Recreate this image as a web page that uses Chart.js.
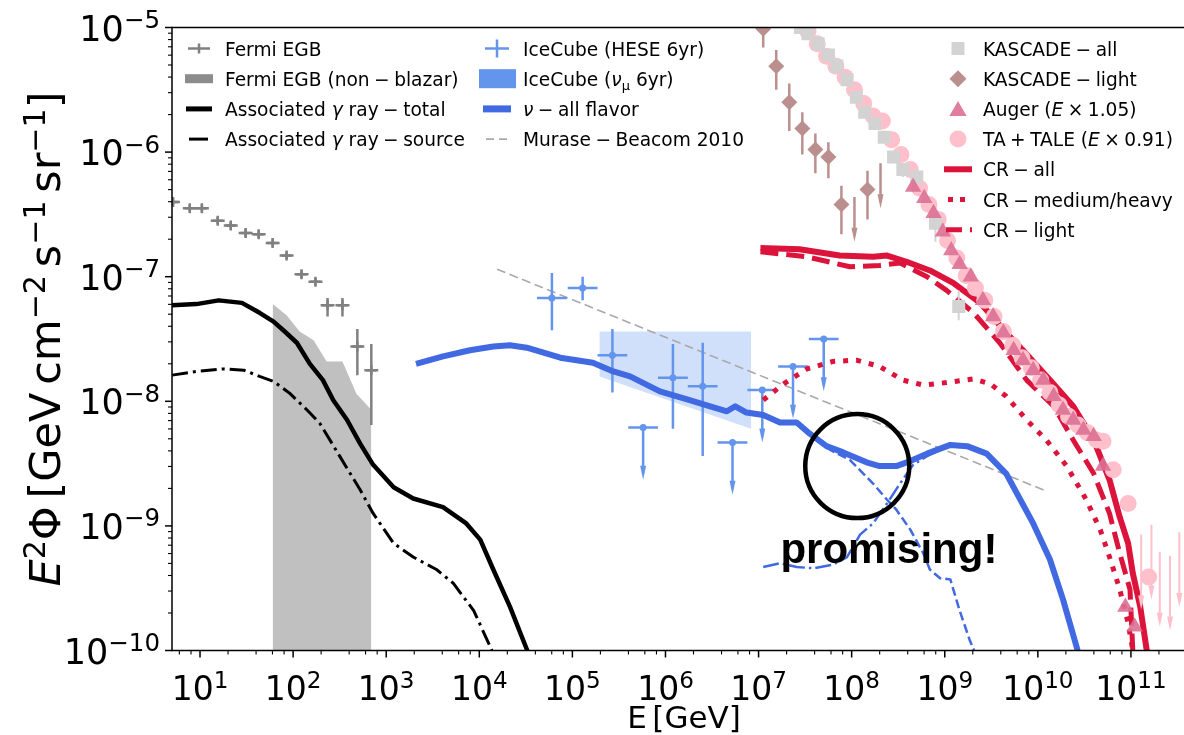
<!DOCTYPE html>
<html>
<head>
<meta charset="utf-8">
<script src="https://cdn.jsdelivr.net/npm/chart.js@4.4.1/dist/chart.umd.min.js"></script>
<style>
  html, body { margin: 0; padding: 0; background: #fff; overflow: hidden; }
  #wrap { position: relative; width: 1210px; height: 735px; }
</style>
</head>
<body>
<div id="wrap"><canvas id="fluxChart"></canvas></div>
<script>
// All values: log10(E / GeV) and log10(E^2 Phi / GeV cm^-2 s^-1 sr^-1)

// Fermi EGB points
const fermiLogE = [0.71, 0.89, 1.02, 1.19, 1.33, 1.49, 1.63, 1.78, 1.93, 2.09, 2.24, 2.37, 2.53, 2.69, 2.84];
const fermiLogF = [-6.40, -6.45, -6.45, -6.55, -6.59, -6.65, -6.66, -6.73, -6.83, -6.98, -7.04, -7.23, -7.23, -7.56, -7.75];
const fermiErrHi = [0.03, 0.03, 0.03, 0.03, 0.03, 0.03, 0.03, 0.03, 0.03, 0.03, 0.03, 0.06, 0.06, 0.14, 0.21];
const fermiErrLo = [0.03, 0.03, 0.03, 0.03, 0.03, 0.03, 0.03, 0.03, 0.03, 0.03, 0.03, 0.09, 0.09, 0.23, 0.44];

// Fermi EGB non-blazar band (upper edge)
const fermiNbLogE = [1.78, 1.93, 2.07, 2.22, 2.36, 2.53, 2.68, 2.83, 2.84];
const fermiNbLogF = [-7.22, -7.31, -7.44, -7.51, -7.68, -7.68, -7.94, -8.06, -8.06];

// associated gamma rays
const gamTotLogE = [0.70, 0.96, 1.20, 1.45, 1.64, 1.79, 1.91, 2.04, 2.18, 2.32, 2.43, 2.58, 2.72, 2.86, 3.08, 3.29, 3.61, 3.86, 4.01, 4.15, 4.33, 4.51, 4.60];
const gamTotLogF = [-7.23, -7.22, -7.19, -7.21, -7.29, -7.36, -7.44, -7.53, -7.70, -7.83, -7.99, -8.15, -8.34, -8.51, -8.69, -8.78, -8.85, -8.98, -9.11, -9.35, -9.65, -9.99, -10.20];
const gamSrcLogE = [0.70, 0.96, 1.25, 1.47, 1.64, 1.79, 1.97, 2.15, 2.29, 2.50, 2.72, 2.86, 3.08, 3.29, 3.54, 3.72, 3.94, 4.13, 4.20];
const gamSrcLogF = [-7.79, -7.76, -7.74, -7.75, -7.80, -7.84, -7.94, -8.07, -8.18, -8.44, -8.71, -8.90, -9.14, -9.25, -9.35, -9.46, -9.68, -9.99, -10.15];

// IceCube HESE 6yr
const heseLogE = [4.78, 5.11, 5.43, 6.08, 6.40];
const heseLogF = [-7.17, -7.09, -7.63, -7.81, -7.88];
const heseErrHi = [0.20, 0.09, 0.21, 0.27, 0.35];
const heseErrLo = [0.26, 0.10, 0.30, 0.41, 0.56];
const heseUlLogE = [5.76, 6.72, 7.04, 7.37, 7.70];
const heseUlLogF = [-8.21, -8.33, -7.91, -7.72, -7.50];

// IceCube numu 6yr band
const numuLogE = [5.29, 6.92];
const numuHiLogF = [-7.44, -7.44];
const numuLoLogF = [-7.80, -8.22];

// Murase & Beacom 2010
const mbLogE = [4.19, 8.30, 10.09];
const mbLogF = [-6.94, -8.18, -8.72];

// neutrinos
const nuAllLogE = [3.32, 3.61, 3.90, 4.15, 4.33, 4.51, 4.87, 5.22, 5.44, 5.62, 5.94, 6.26, 6.48, 6.66, 6.75, 6.87, 7.05, 7.23, 7.41, 7.55, 7.73, 7.91, 8.16, 8.30, 8.48, 8.63, 8.81, 9.06, 9.24, 9.45, 9.66, 9.95, 10.13, 10.27, 10.42, 10.50];
const nuAllLogF = [-7.70, -7.64, -7.59, -7.56, -7.55, -7.57, -7.65, -7.69, -7.76, -7.80, -7.92, -7.99, -8.04, -8.08, -8.04, -8.09, -8.11, -8.17, -8.17, -8.26, -8.36, -8.41, -8.49, -8.52, -8.52, -8.48, -8.42, -8.35, -8.36, -8.42, -8.58, -8.98, -9.27, -9.59, -9.98, -10.20];
const nuDashLogE = [7.41, 7.59, 7.77, 7.98, 8.23, 8.38, 8.48, 8.63, 8.77, 8.84, 8.95, 9.06, 9.16, 9.27, 9.31, 9.35];
const nuDashLogF = [-8.17, -8.27, -8.39, -8.47, -8.66, -8.79, -8.87, -9.03, -9.22, -9.35, -9.42, -9.43, -9.68, -9.92, -9.99, -10.15];
const nuDdLogE = [7.05, 7.23, 7.41, 7.59, 7.80, 7.95, 8.09, 8.23, 8.38, 8.52, 8.66, 8.81, 8.95, 9.06];
const nuDdLogF = [-9.33, -9.30, -9.33, -9.34, -9.31, -9.25, -9.07, -8.98, -8.82, -8.66, -8.51, -8.44, -8.39, -8.35];

// cosmic-ray models
const crAllLogE = [7.02, 7.44, 7.87, 8.23, 8.38, 8.59, 8.84, 9.09, 9.38, 9.66, 9.84, 10.13, 10.38, 10.60, 10.77, 10.88, 10.97, 11.02, 11.10, 11.17, 11.20];
const crAllLogF = [-6.77, -6.78, -6.83, -6.84, -6.83, -6.88, -6.95, -7.05, -7.21, -7.45, -7.59, -7.83, -8.04, -8.31, -8.63, -8.93, -9.14, -9.38, -9.65, -10.00, -10.20];
const crLightLogE = [7.02, 7.52, 7.98, 8.30, 8.52, 8.81, 9.02, 9.31, 9.59, 9.88, 10.17, 10.38, 10.60, 10.77, 10.88, 10.99, 11.02, 11.05];
const crLightLogF = [-6.80, -6.84, -6.92, -6.91, -6.89, -7.00, -7.11, -7.29, -7.53, -7.83, -8.04, -8.31, -8.58, -8.90, -9.22, -9.51, -10.00, -10.20];
const crMhLogE = [7.05, 7.27, 7.52, 7.80, 8.05, 8.30, 8.55, 8.77, 9.02, 9.31, 9.49, 9.66, 9.88, 10.09, 10.31, 10.52, 10.67, 10.77, 10.88, 10.97, 11.02, 11.05];
const crMhLogF = [-7.99, -7.86, -7.74, -7.68, -7.67, -7.72, -7.83, -7.87, -7.85, -7.82, -7.86, -7.96, -8.15, -8.31, -8.52, -8.79, -9.03, -9.25, -9.51, -9.78, -10.00, -10.20];

// KASCADE
const kasAllLogE = [7.45, 7.53, 7.64, 7.75, 7.84, 7.95, 8.05, 8.14, 8.25, 8.35, 8.45, 8.55, 8.70, 8.90, 9.15];
const kasAllLogF = [-5.00, -5.05, -5.13, -5.22, -5.31, -5.42, -5.56, -5.68, -5.77, -5.88, -6.04, -6.14, -6.20, -6.57, -7.24];
const kasAllErrHi = [0.02, 0.02, 0.02, 0.02, 0.02, 0.02, 0.02, 0.02, 0.02, 0.02, 0.04, 0.05, 0.07, 0.05, 0.13];
const kasAllErrLo = [0.02, 0.02, 0.02, 0.02, 0.02, 0.02, 0.02, 0.02, 0.02, 0.02, 0.05, 0.06, 0.07, 0.15, 0.11];
const kasLightLogE = [7.05, 7.19, 7.33, 7.47, 7.61, 7.75, 7.89, 8.17];
const kasLightLogF = [-5.01, -5.31, -5.60, -5.81, -5.98, -6.04, -6.42, -6.30];
const kasLightErrHi = [0.15, 0.13, 0.15, 0.13, 0.13, 0.12, 0.15, 0.15];
const kasLightErrLo = [0.15, 0.19, 0.23, 0.21, 0.19, 0.17, 0.24, 0.24];
const kasLightUlLogE = [8.03, 8.31];
const kasLightUlLogF = [-6.36, -6.09];

// Auger (E x 1.05)
const augerLogE = [8.66, 8.78, 8.88, 8.98, 9.07, 9.16, 9.28, 9.41, 9.52, 9.63, 9.74, 9.84, 9.95, 10.06, 10.17, 10.27, 10.38, 10.49, 10.60, 10.70, 10.94, 11.04];
const augerLogF = [-6.28, -6.37, -6.49, -6.64, -6.79, -6.90, -7.00, -7.19, -7.32, -7.45, -7.59, -7.67, -7.75, -7.83, -7.96, -8.07, -8.15, -8.23, -8.28, -8.52, -9.65, -9.81];

// TA + TALE (E x 0.91)
const taLogE = [7.53, 7.63, 7.73, 7.83, 7.93, 8.03, 8.13, 8.23, 8.33, 8.43, 8.53, 8.63, 8.73, 8.83, 8.93, 9.03, 9.13, 9.23, 9.33, 9.43, 9.53, 9.63, 9.73, 9.83, 9.93, 10.03, 10.13, 10.23, 10.33, 10.43, 10.53, 10.63, 10.70, 10.81, 10.97, 11.19];
const taLogF = [-5.03, -5.13, -5.23, -5.31, -5.40, -5.50, -5.61, -5.71, -5.75, -5.90, -6.02, -6.14, -6.29, -6.42, -6.54, -6.71, -6.85, -6.99, -7.09, -7.19, -7.32, -7.44, -7.55, -7.65, -7.73, -7.83, -7.93, -8.03, -8.12, -8.19, -8.25, -8.31, -8.32, -8.55, -8.82, -9.41];
const taUlLogE = [11.11, 11.22, 11.31, 11.42, 11.52];
const taUlLogF = [-9.07, -8.99, -9.21, -9.24, -9.05];

// annotation anchor (circle centre, label position)
const circleAt = [8.06, -8.52];
const labelAt = [8.40, -9.30];

const FONT = '"DejaVu Sans", sans-serif';

const toPts = (lx, ly) => lx.map((v, i) => ({ x: 10 ** v, y: 10 ** ly[i] }));

function curve(lx, ly, color, width, dash, order) {
  return {
    data: toPts(lx, ly), borderColor: color, borderWidth: width, borderDash: dash || [],
    pointRadius: 0, fill: false, order, clip: 0, borderJoinStyle: 'round', borderCapStyle: 'butt'
  };
}

function markers(lx, ly, style, radius, color, order, errorBars) {
  return {
    data: toPts(lx, ly), showLine: false, pointStyle: style, pointRadius: radius,
    pointBackgroundColor: color, pointBorderColor: color, pointBorderWidth: style === 'cross' ? 2.5 : 0,
    order, clip: 0, errorBars
  };
}

const datasets = [
  { data: toPts(fermiNbLogE, fermiNbLogF), borderWidth: 0, borderColor: 'transparent', pointRadius: 0,
    fill: 'start', backgroundColor: '#c0c0c0', order: 40, clip: 0 },
  { data: toPts(numuLogE, numuHiLogF), borderWidth: 0, borderColor: 'transparent', pointRadius: 0,
    fill: false, order: 39, clip: 0 },
  { data: toPts(numuLogE, numuLoLogF), borderWidth: 0, borderColor: 'transparent', pointRadius: 0,
    fill: '-1', backgroundColor: 'rgba(100,149,237,0.3)', order: 39, clip: 0 },
  curve(mbLogE, mbLogF, '#a9a9a9', 1.6, [9, 4.5], 38),
  curve(gamSrcLogE, gamSrcLogF, '#000', 3, [16, 5, 3, 5], 37),
  curve(gamTotLogE, gamTotLogF, '#000', 4.5, [], 36),
  markers(fermiLogE, fermiLogF, 'cross', 5, '#808080', 35,
    { color: '#808080', width: 2.5, xHalf: 0.075, hi: fermiErrHi, lo: fermiErrLo }),
  markers(heseLogE, heseLogF, 'circle', 3.5, '#6495ed', 34,
    { color: '#6495ed', width: 2.5, xHalf: 0.16, hi: heseErrHi, lo: heseErrLo }),
  markers(heseUlLogE, heseUlLogF, 'circle', 3.5, '#6495ed', 34,
    { color: '#6495ed', width: 2.5, xHalf: 0.16, arrow: 0.42 }),
  curve(nuDdLogE, nuDdLogF, '#4169e1', 2.5, [16, 4, 2.5, 4], 33),
  curve(nuDashLogE, nuDashLogF, '#4169e1', 2.5, [9, 4], 32),
  curve(nuAllLogE, nuAllLogF, '#4169e1', 6, [], 31),
  curve(crMhLogE, crMhLogF, '#dc143c', 5, [5, 8], 30),
  curve(crLightLogE, crLightLogF, '#dc143c', 5, [18, 8], 29),
  curve(crAllLogE, crAllLogF, '#dc143c', 6, [], 28),
  markers(taLogE, taLogF, 'circle', 8.5, '#ffc0cb', 27),
  markers(taUlLogE, taUlLogF, 'circle', 0, '#ffc0cb', 27,
    { color: '#ffc0cb', width: 2, arrow: 0.6 }),
  markers(kasLightLogE, kasLightLogF, 'rectRot', 8, '#bc8f8f', 26,
    { color: '#bc8f8f', width: 2.5, hi: kasLightErrHi, lo: kasLightErrLo }),
  markers(kasLightUlLogE, kasLightUlLogF, 'circle', 0, '#bc8f8f', 26,
    { color: '#bc8f8f', width: 2.5, arrow: 0.36 }),
  markers(kasAllLogE, kasAllLogF, 'rect', 9.2, '#d3d3d3', 25,
    { color: '#d3d3d3', width: 2, hi: kasAllErrHi, lo: kasAllErrLo }),
  markers(augerLogE, augerLogF, 'triangle', 9.5, 'rgba(219,112,147,0.9)', 24)
];

// error bars and upper-limit arrows, drawn under each dataset's markers
const errorBarPlugin = {
  id: 'errorBars',
  beforeDatasetDraw(chart, args) {
    const ds = chart.data.datasets[args.index];
    const eb = ds.errorBars;
    if (!eb) return;
    const { ctx, chartArea: a, scales: { x, y } } = chart;
    ctx.save();
    ctx.beginPath();
    ctx.rect(a.left, a.top, a.right - a.left, a.bottom - a.top);
    ctx.clip();
    ctx.strokeStyle = eb.color;
    ctx.fillStyle = eb.color;
    ctx.lineWidth = eb.width;
    ds.data.forEach((p, i) => {
      const px = x.getPixelForValue(p.x);
      const py = y.getPixelForValue(p.y);
      ctx.beginPath();
      if (eb.xHalf) {
        ctx.moveTo(x.getPixelForValue(p.x / 10 ** eb.xHalf), py);
        ctx.lineTo(x.getPixelForValue(p.x * 10 ** eb.xHalf), py);
      }
      if (eb.hi) {
        ctx.moveTo(px, y.getPixelForValue(p.y * 10 ** eb.hi[i]));
        ctx.lineTo(px, y.getPixelForValue(p.y / 10 ** eb.lo[i]));
      }
      let tip = null;
      if (eb.arrow) {
        tip = y.getPixelForValue(p.y / 10 ** eb.arrow);
        ctx.moveTo(px, py);
        ctx.lineTo(px, tip - 6);
      }
      ctx.stroke();
      if (tip !== null) {
        ctx.beginPath();
        ctx.moveTo(px - 3, tip - 14);
        ctx.lineTo(px + 3, tip - 14);
        ctx.lineTo(px, tip);
        ctx.closePath();
        ctx.fill();
      }
    });
    ctx.restore();
  }
};

// text with italic / super- / subscript pieces; binary operators get
// narrower spacing, like mathtext does
function expandOps(parts) {
  const out = [];
  for (const [t, k] of parts) {
    if (k) { out.push([t, k]); continue; }
    t.split(/ ([−+×]) /).forEach((piece, j) => {
      if (j % 2) out.push(['', 'med'], [piece, ''], ['', 'med']);
      else if (piece) out.push([piece, '']);
    });
  }
  return out;
}

function drawRich(ctx, parts, x, y, size, align) {
  parts = expandOps(parts);
  const fontFor = k => (k === 'i' ? 'italic ' : '') +
    ((k === 'sup' || k === 'sub') ? (size * 0.7).toFixed(1) : size) + 'px ' + FONT;
  const gap = { thin: 0.18, med: 0.24 };
  const widthOf = (t, k) => {
    if (gap[k]) return gap[k] * size;
    ctx.font = fontFor(k);
    return ctx.measureText(t).width;
  };
  ctx.textAlign = 'left';
  ctx.textBaseline = 'alphabetic';
  let w = 0;
  for (const [t, k] of parts) w += widthOf(t, k);
  let cx = align === 'center' ? x - w / 2 : align === 'right' ? x - w : x;
  for (const [t, k] of parts) {
    if (!gap[k]) {
      ctx.font = fontFor(k);
      const dy = k === 'sup' ? -size * 0.36 : k === 'sub' ? size * 0.22 : 0;
      ctx.fillText(t, cx, y + dy);
    }
    cx += widthOf(t, k);
  }
}

function strokeSeg(ctx, x0, y0, x1, y1, color, width, dash) {
  ctx.save();
  ctx.strokeStyle = color;
  ctx.lineWidth = width;
  ctx.setLineDash(dash || []);
  ctx.beginPath();
  ctx.moveTo(x0, y0);
  ctx.lineTo(x1, y1);
  ctx.stroke();
  ctx.restore();
}

function marker(ctx, style, x, y, r, color) {
  ctx.save();
  ctx.fillStyle = color;
  ctx.beginPath();
  if (style === 'rect') {
    const s = r / Math.SQRT2;
    ctx.rect(x - s, y - s, 2 * s, 2 * s);
  } else if (style === 'diamond') {
    ctx.moveTo(x, y - r); ctx.lineTo(x + r, y); ctx.lineTo(x, y + r); ctx.lineTo(x - r, y);
  } else if (style === 'triangle') {
    for (let k = 0; k < 3; k++) {
      const ang = k * 2 * Math.PI / 3;
      ctx.lineTo(x + Math.sin(ang) * r, y - Math.cos(ang) * r);
    }
  } else {
    ctx.arc(x, y, r, 0, 2 * Math.PI);
  }
  ctx.closePath();
  ctx.fill();
  ctx.restore();
}

const legendRowY = [48.5, 78.7, 108.9, 139.1, 169.3, 199.5, 229.7];

const legendLeft = [
  [['Fermi EGB']],
  [['Fermi EGB (non − blazar)']],
  [['Associated '], ['γ', 'i'], [' ray − total']],
  [['Associated '], ['γ', 'i'], [' ray − source']]
];
const legendMid = [
  [['IceCube (HESE 6yr)']],
  [['IceCube ('], ['ν', 'i'], ['μ', 'sub'], [' 6yr)']],
  [['ν', 'i'], [' − all flavor']],
  [['Murase − Beacom 2010']]
];
const legendRight = [
  [['KASCADE − all']],
  [['KASCADE − light']],
  [['Auger ('], ['E', 'i'], [' × 1.05)']],
  [['TA + TALE ('], ['E', 'i'], [' × 0.91)']],
  [['CR − all']],
  [['CR − medium/heavy']],
  [['CR − light']]
];

const decorPlugin = {
  id: 'decor',
  afterDatasetsDraw(chart) {
    const { ctx, scales: { x, y } } = chart;
    const cx = x.getPixelForValue(10 ** circleAt[0]);
    const cy = y.getPixelForValue(10 ** circleAt[1]);
    ctx.save();
    ctx.strokeStyle = '#000';
    ctx.lineWidth = 4.5;
    ctx.beginPath();
    ctx.arc(cx, cy, 52, 0, 2 * Math.PI);
    ctx.stroke();
    ctx.fillStyle = '#000';
    ctx.font = 'bold 42px "Liberation Sans", Arial, sans-serif';
    ctx.textAlign = 'center';
    ctx.textBaseline = 'alphabetic';
    ctx.fillText('promising!', x.getPixelForValue(10 ** labelAt[0]), y.getPixelForValue(10 ** labelAt[1]));
    ctx.restore();
  },
  afterDraw(chart) {
    const { ctx, chartArea: a, scales: { x, y } } = chart;
    ctx.save();
    ctx.fillStyle = '#000';

    // spines
    ctx.strokeStyle = '#000';
    ctx.lineWidth = 1.5;
    ctx.strokeRect(a.left, a.top, a.right - a.left, a.bottom - a.top);

    // x ticks
    for (let n = 0; n <= 11; n++) {
      for (let m = 1; m <= 8; m++) {
        if (m > 1 && m % 2) continue;
        const v = m * 10 ** n;
        if (v < x.min || v > x.max) continue;
        const px = x.getPixelForValue(v);
        const major = m === 1;
        strokeSeg(ctx, px, a.bottom, px, a.bottom + (major ? 7 : 4), '#000', major ? 1.5 : 1.1);
        if (major) drawRich(ctx, [['10'], [String(n), 'sup']], px, 700, 33, 'center');
      }
    }
    // y ticks
    for (let n = -10; n <= -5; n++) {
      for (let m = 1; m <= 9; m++) {
        const v = m * 10 ** n;
        if (v < y.min * 0.999 || v > y.max * 1.001) continue;
        const py = y.getPixelForValue(v);
        const major = m === 1;
        strokeSeg(ctx, a.left, py, a.left - (major ? 7 : 4), py, '#000', major ? 1.5 : 1.1);
        if (major) drawRich(ctx, [['10'], ['−' + (-n), 'sup']], a.left - 12, py + 13, 35, 'right');
      }
    }

    // axis titles
    ctx.fillStyle = '#000';
    drawRich(ctx, [['E'], ['', 'thin'], ['[GeV]']], (a.left + a.right) / 2, 728, 31, 'center');
    ctx.save();
    ctx.translate(60, (a.top + a.bottom) / 2);
    ctx.rotate(-Math.PI / 2);
    drawRich(ctx, [['E', 'i'], ['2', 'sup'], ['Φ'], ['', 'thin'], ['[GeV'], ['', 'thin'], ['cm'], ['−2', 'sup'],
      ['', 'thin'], ['s'], ['−1', 'sup'], ['', 'thin'], ['sr'], ['−1', 'sup'], [']']], 0, 0, 43, 'center');
    ctx.restore();

    // legend: left block
    const R = legendRowY;
    strokeSeg(ctx, 188, R[0], 210, R[0], '#808080', 2.5);
    strokeSeg(ctx, 199, R[0] - 5, 199, R[0] + 5, '#808080', 2.5);
    ctx.fillStyle = '#8c8c8c';
    ctx.fillRect(185, R[1] - 4.5, 28, 9);
    strokeSeg(ctx, 186, R[2], 212, R[2], '#000', 5);
    strokeSeg(ctx, 189, R[3], 213, R[3], '#000', 3, [19, 5, 3, 5]);
    // middle block
    strokeSeg(ctx, 485, R[0], 509, R[0], '#6495ed', 2.5);
    strokeSeg(ctx, 497, R[0] - 9, 497, R[0] + 9, '#6495ed', 2.5);
    ctx.fillStyle = '#6495ed';
    ctx.fillRect(479, R[1] - 9.5, 37, 19);
    strokeSeg(ctx, 483, R[2], 511, R[2], '#4169e1', 7);
    strokeSeg(ctx, 486, R[3], 510, R[3], '#a9a9a9', 1.6, [8, 5]);
    // right block
    marker(ctx, 'rect', 958, R[0], 9.2, '#d3d3d3');
    marker(ctx, 'diamond', 958, R[1], 8.5, '#bc8f8f');
    marker(ctx, 'triangle', 958, R[2] + 2, 10, 'rgba(219,112,147,0.9)');
    marker(ctx, 'circle', 958, R[3], 8.5, '#ffc0cb');
    strokeSeg(ctx, 944, R[4], 972, R[4], '#dc143c', 6);
    strokeSeg(ctx, 948, R[5], 972, R[5], '#dc143c', 5, [5, 7]);
    strokeSeg(ctx, 946, R[6], 972, R[6], '#dc143c', 5, [16, 8]);

    ctx.fillStyle = '#000';
    legendLeft.forEach((p, i) => drawRich(ctx, p, 225, R[i] + 7, 18.6, 'left'));
    legendMid.forEach((p, i) => drawRich(ctx, p, 523, R[i] + 7, 18.6, 'left'));
    legendRight.forEach((p, i) => drawRich(ctx, p, 983, R[i] + 7, 18.6, 'left'));
    ctx.restore();
  }
};

new Chart(document.getElementById('fluxChart').getContext('2d'), {
  type: 'line',
  data: { datasets },
  options: {
    responsive: true,
    maintainAspectRatio: false,
    animation: false,
    events: [],
    layout: { padding: { top: 27.5, right: 14, left: 0, bottom: 0 } },
    plugins: { legend: { display: false }, tooltip: { enabled: false } },
    scales: {
      x: {
        type: 'logarithmic', min: 5, max: 5e11, bounds: 'data',
        grid: { display: false }, border: { display: false }, ticks: { display: false },
        afterFit(s) { s.height = 84.5; }
      },
      y: {
        type: 'logarithmic', min: 1e-10, max: 1e-5, bounds: 'data',
        grid: { display: false }, border: { display: false }, ticks: { display: false },
        afterFit(s) { s.width = 172; }
      }
    }
  },
  plugins: [errorBarPlugin, decorPlugin]
});
</script>
</body>
</html>
